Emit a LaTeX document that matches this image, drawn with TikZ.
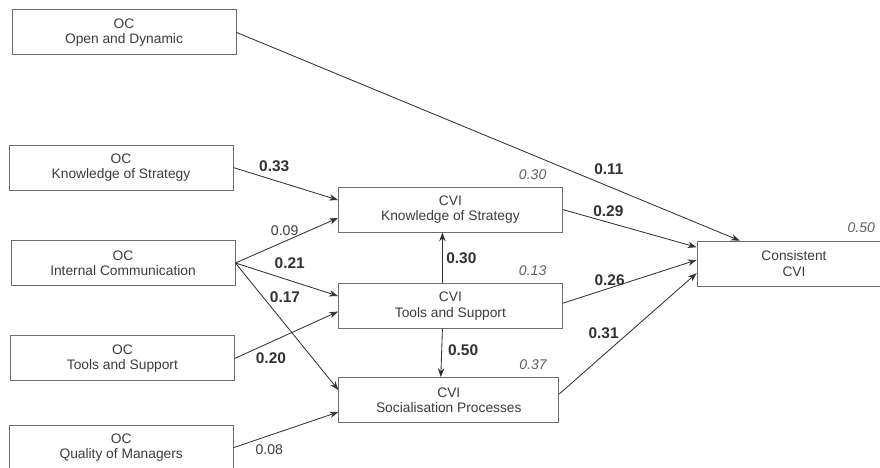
\documentclass[tikz,border=0pt]{standalone}
\usepackage{fontspec}
\setmainfont{Liberation Sans}
\usepackage{xcolor}
\usepackage{tikz}
\usetikzlibrary{arrows.meta, calc, positioning}

\definecolor{boxgray}{RGB}{110,110,110}
\definecolor{linegray}{RGB}{50,50,50}
\definecolor{txtgray}{RGB}{60,60,60}
\definecolor{rsqgray}{RGB}{95,95,95}

\tikzset{
  factor/.style={draw=boxgray, line width=0.6pt, minimum width=5.6cm, minimum height=1.125cm, align=center, font=\fontsize{9.8}{11}\selectfont, text=txtgray, inner sep=0pt},
  link/.style={-{Stealth[length=2.2mm, width=1.6mm]}, draw=linegray, line width=0.6pt},
  coef/.style={font=\fontsize{11}{13}\selectfont\bfseries, text=linegray, inner sep=1.5pt},
  weak/.style={font=\fontsize{10}{12}\selectfont, text=txtgray, inner sep=1.5pt},
  rsq/.style={font=\fontsize{10}{12}\selectfont\itshape, text=rsqgray, inner sep=1pt}
}

\begin{document}
\begin{tikzpicture}
             \useasboundingbox (0,0) rectangle (22,-11.7);
             \clip (0,0) rectangle (22,-11.7);
             \node[factor] (od) at (3.1,-0.81) {OC\\Open and Dynamic};
             \node[factor] (oks) at (3.025,-4.19) {OC\\Knowledge of Strategy};
             \node[factor] (oic) at (3.075,-6.575) {OC\\Internal Communication};
             \node[factor] (ots) at (3.06,-8.96) {OC\\Tools and Support};
             \node[factor] (oqm) at (3.03,-11.19) {OC\\Quality of Managers};
             \node[factor] (cks) at (11.26,-5.24) {CVI\\Knowledge of Strategy};
             \node[factor] (cts) at (11.26,-7.65) {CVI\\Tools and Support};
             \node[factor, minimum width=5.5cm] (csp) at (11.22,-10.0) {CVI\\Socialisation Processes};
             \node[factor, minimum width=4.85cm] (ccvi) at (19.85,-6.59) {Consistent\\CVI};
             \node[rsq, above left=0.14cm and 0.37cm of cks.north east] (r2cks) {0.30};
             \node[rsq, above left=0.15cm and 0.37cm of cts.north east] (r2cts) {0.13};
             \node[rsq, above left=0.15cm and 0.27cm of csp.north east] (r2csp) {0.37};
             \node[rsq, above left=0.15cm and 0.37cm of ccvi.north east] (r2ccvi) {0.50};
             \draw [link] (od.east) -- ($(ccvi.north west)+(1.08,0)$) node[coef, pos=0.74, above=7pt]{0.11};
             \draw [link] (oks.east) -- ($(cks.west)+(0,0.24)$) node[coef, pos=0.39, above=4pt]{0.33};
             \draw [link] (oic.east) -- ($(cks.west)+(0,-0.21)$) node[weak, pos=0.48, above=2pt]{0.09};
             \draw [link] (oic.east) -- ($(cts.west)+(0,0.25)$) node[coef, pos=0.53, above=6.5pt]{0.21};
             \draw [link] (oic.east) -- ($(csp.west)+(0,0.25)$) node[coef, pos=0.27, right=3pt]{0.17};
             \draw [link] (ots.east) -- ($(cts.west)+(0,-0.14)$) node[coef, pos=0.35, below=5.5pt]{0.20};
             \draw [link] (oqm.east) -- ($(csp.west)+(0,-0.3)$) node[weak, pos=0.34, below=5pt]{0.08};
             \draw [link] ($(cts.north)+(-0.2,0)$) -- ($(cks.south)+(-0.2,0)$) node[coef, midway, right=1pt]{0.30};
             \draw [link] ($(cts.south)+(-0.2,0)$) -- ($(csp.north)+(-0.2,0)$) node[coef, pos=0.45, right=2.7pt]{0.50};
             \draw [link] (cks.east) -- ($(ccvi.west)+(0,0.41)$) node[coef, pos=0.34, above=2.5pt]{0.29};
             \draw [link] ($(cts.east)+(0,0.07)$) -- ($(ccvi.west)+(0,0.09)$) node[coef, pos=0.35, above=0pt]{0.26};
             \draw [link] ($(csp.east)+(0,0.15)$) -- ($(ccvi.west)+(0,-0.24)$) node[coef, pos=0.5, left=4.8pt]{0.31};
\end{tikzpicture}
\end{document}
